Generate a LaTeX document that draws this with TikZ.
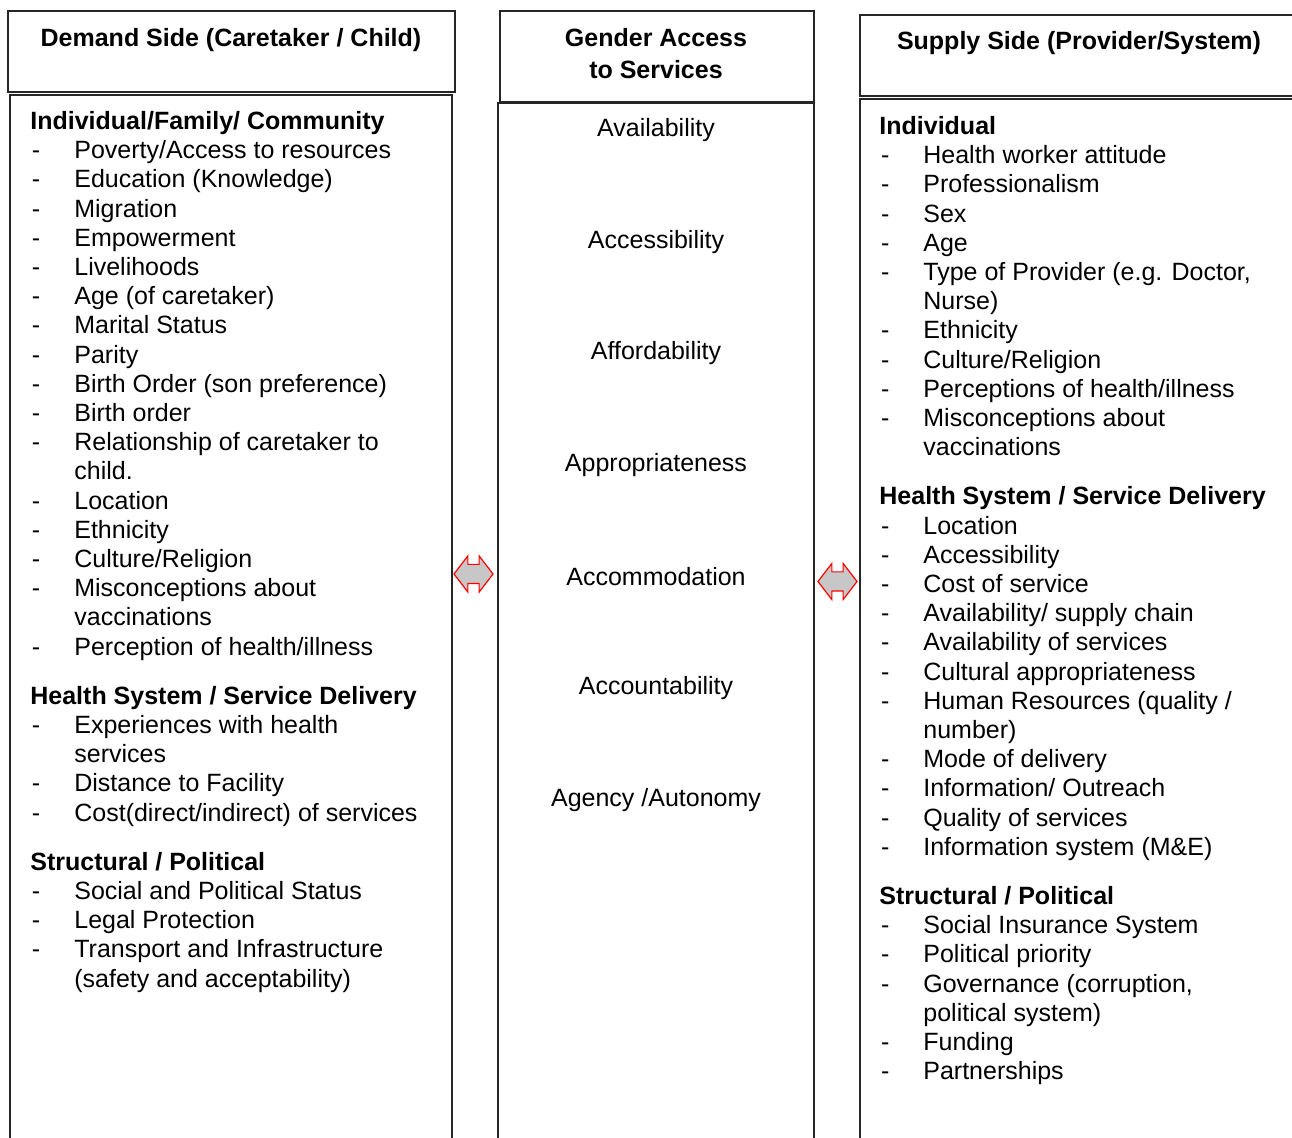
\documentclass[tikz,border=0pt]{standalone}
\usepackage{fontspec}
\setmainfont{Liberation Sans}
\usetikzlibrary{shapes.arrows}

% list helpers: dash bullet and continuation indent
\newcommand\dashitem{\makebox[22pt][l]{\hspace{0.8pt}-}}
\newcommand\contline{\hspace*{22pt}}

\tikzset{
  frame/.style={draw=black!85, line width=0.6pt},
  head/.style={font=\fontsize{12.5}{16}\selectfont\bfseries, inner sep=0pt},
  body/.style={font=\fontsize{12.5}{14.6}\selectfont, align=left, inner sep=0pt, anchor=north west},
  dim/.style={font=\fontsize{12.5}{14.6}\selectfont, inner sep=0pt},
  dblarrow/.style={double arrow, draw=red, fill=black!22, line width=0.6pt,
    inner xsep=0pt, inner ysep=4.5pt, minimum height=19.5pt,
    double arrow head extend=4.25pt, double arrow tip angle=105}
}

\begin{document}
\begin{tikzpicture}[x=0.5pt, y=-0.5pt]
    \useasboundingbox (0,0) rectangle (1292,1138);
    \clip (0,0) rectangle (1292,1138);

    % column frames
    \draw[frame] (8,11) rectangle (455,92);
    \draw[frame] (10,95) rectangle (452,1160);
    \draw[frame] (500,11) rectangle (814,102);
    \draw[frame] (498,103) rectangle (814,1160);
    \draw[frame] (860,15) rectangle (1310,96);
    \draw[frame] (860,99) rectangle (1310,1160);

    % headings
    \node[head] (demand) at (231,40) {Demand Side (Caretaker / Child)};
    \node[head, align=center] (gender) at (656,54) {Gender Access\\to Services};
    \node[head] (supply) at (1079,43) {Supply Side (Provider/System)};

    % demand side
    \node[body] (demandlist) at (30,111) {%
        \textbf{Individual/Family/ Community}\\
        \dashitem Poverty/Access to resources\\
        \dashitem Education (Knowledge)\\
        \dashitem Migration\\
        \dashitem Empowerment\\
        \dashitem Livelihoods\\
        \dashitem Age (of caretaker)\\
        \dashitem Marital Status\\
        \dashitem Parity\\
        \dashitem Birth Order (son preference)\\
        \dashitem Birth order\\
        \dashitem Relationship of caretaker to\\
        \contline child.\\
        \dashitem Location\\
        \dashitem Ethnicity\\
        \dashitem Culture/Religion\\
        \dashitem Misconceptions about\\
        \contline vaccinations\\
        \dashitem Perception of health/illness\\[10pt]
        \textbf{Health System / Service Delivery}\\
        \dashitem Experiences with health\\
        \contline services\\
        \dashitem Distance to Facility\\
        \dashitem Cost(direct/indirect) of services\\[10pt]
        \textbf{Structural / Political}\\
        \dashitem Social and Political Status\\
        \dashitem Legal Protection\\
        \dashitem Transport and Infrastructure\\
        \contline (safety and acceptability)};

    % access dimensions
    \foreach \t [count=\i from 0] in {Availability, Accessibility, Affordability,
        Appropriateness, Accommodation, Accountability, Agency /Autonomy}
        \node[dim] (dim\i) at (656,130+111.7*\i) {\t};

    % supply side
    \node[body] (supplylist) at (879,116) {%
        \textbf{Individual}\\
        \dashitem Health worker attitude\\
        \dashitem Professionalism\\
        \dashitem Sex\\
        \dashitem Age\\
        \dashitem Type of Provider (e.g. Doctor,\\
        \contline Nurse)\\
        \dashitem Ethnicity\\
        \dashitem Culture/Religion\\
        \dashitem Perceptions of health/illness\\
        \dashitem Misconceptions about\\
        \contline vaccinations\\[10pt]
        \textbf{Health System / Service Delivery}\\
        \dashitem Location\\
        \dashitem Accessibility\\
        \dashitem Cost of service\\
        \dashitem Availability/ supply chain\\
        \dashitem Availability of services\\
        \dashitem Cultural appropriateness\\
        \dashitem Human Resources (quality /\\
        \contline number)\\
        \dashitem Mode of delivery\\
        \dashitem Information/ Outreach\\
        \dashitem Quality of services\\
        \dashitem Information system (M\&E)\\[10pt]
        \textbf{Structural / Political}\\
        \dashitem Social Insurance System\\
        \dashitem Political priority\\
        \dashitem Governance (corruption,\\
        \contline political system)\\
        \dashitem Funding\\
        \dashitem Partnerships};

    % two-way links between the columns
    \node[dblarrow] (leftlink) at (473.5,574) {};
    \node[dblarrow] (rightlink) at (837.5,581.5) {};
\end{tikzpicture}
\end{document}
